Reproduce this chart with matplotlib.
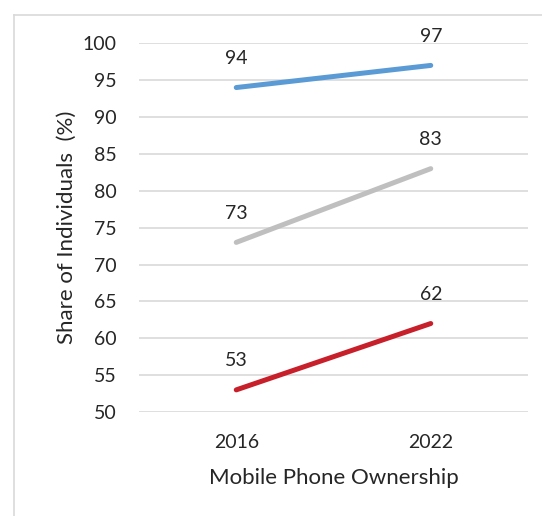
import matplotlib
matplotlib.use('Agg')
from matplotlib import pyplot as plt
from matplotlib.lines import Line2D

years = ['2016', '2022']
series_top = [94, 97]
series_mid = [73, 83]
series_low = [53, 62]
y_ticks = [50, 55, 60, 65, 70, 75, 80, 85, 90, 95, 100]

colors = ['#5B9BD5', '#BFBFBF', '#C8202A']
txt = '#262626'

plt.rcParams['font.family'] = ['Lato', 'DejaVu Sans']

fig = plt.figure(figsize=(5.42, 5.16), dpi=100)
ax = fig.add_axes([139 / 542, 1 - 412 / 516, 389 / 542, (412 - 43.3) / 516])

x = list(range(len(years)))
for vals, c in zip([series_top, series_mid, series_low], colors):
    ax.plot(x, vals, color=c, lw=3.6, solid_capstyle='round', zorder=3)
    for xi, v in zip(x, vals):
        ax.annotate(str(v), (xi, v), xytext=(0, 21), textcoords='offset points',
                    ha='center', va='center', fontsize=14, color=txt)

ax.set_xlim(-0.5, 1.5)
ax.set_ylim(50, 100)
ax.set_yticks(y_ticks)
ax.set_xticks(x)
ax.set_xticklabels(years)
ax.grid(axis='y', color='#D9D9D9', lw=1.2)
ax.set_axisbelow(True)
for s in ax.spines.values():
    s.set_visible(False)
ax.tick_params(length=0, labelsize=14, colors=txt)
ax.tick_params(axis='y', pad=16)
ax.tick_params(axis='x', pad=16)

ax.set_xlabel('Mobile Phone Ownership', fontsize=16, color=txt, labelpad=12)
ax.set_ylabel('Share of Individuals  (%)', fontsize=16, color=txt, labelpad=4)

# outer frame (left and top edges)
fig.add_artist(Line2D([14 / 542, 14 / 542], [0, 1 - 15 / 516], color='#D9D9D9', lw=1.2))
fig.add_artist(Line2D([14 / 542, 1], [1 - 15 / 516, 1 - 15 / 516], color='#D9D9D9', lw=1.2))

plt.savefig('out.png', dpi=100)
